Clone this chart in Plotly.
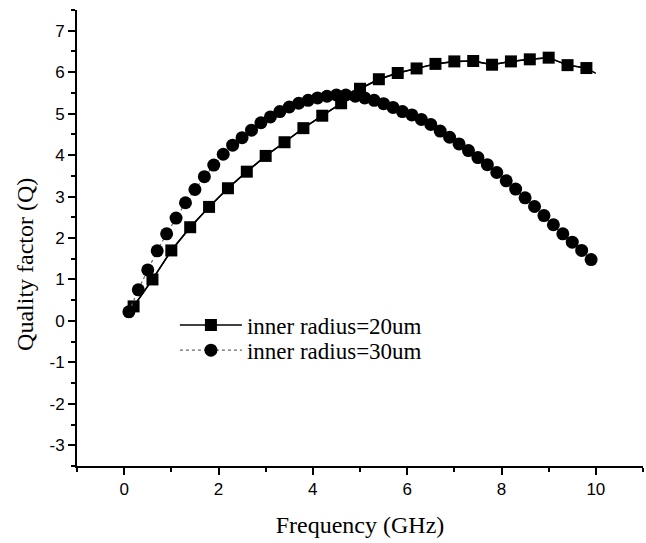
import plotly.graph_objects as go

# inner radius = 20 um (squares); last value is the line end without a symbol
sq_freq = [0.2, 0.6, 1.0, 1.4, 1.8, 2.2, 2.6, 3.0, 3.4, 3.8, 4.2, 4.6, 5.0, 5.4,
           5.8, 6.2, 6.6, 7.0, 7.4, 7.8, 8.2, 8.6, 9.0, 9.4, 9.8, 10.0]
sq_q = [0.35, 1.0, 1.7, 2.26, 2.75, 3.2, 3.6, 3.98, 4.31, 4.65, 4.95, 5.25, 5.6, 5.83,
        5.98, 6.09, 6.2, 6.26, 6.27, 6.18, 6.26, 6.31, 6.35, 6.17, 6.1, 5.97]

# inner radius = 30 um (circles)
ci_freq = [0.1, 0.3, 0.5, 0.7, 0.9, 1.1, 1.3, 1.5, 1.7, 1.9, 2.1, 2.3, 2.5, 2.7, 2.9,
           3.1, 3.3, 3.5, 3.7, 3.9, 4.1, 4.3, 4.5, 4.7, 4.9, 5.1, 5.3, 5.5, 5.7, 5.9,
           6.1, 6.3, 6.5, 6.7, 6.9, 7.1, 7.3, 7.5, 7.7, 7.9, 8.1, 8.3, 8.5, 8.7, 8.9,
           9.1, 9.3, 9.5, 9.7, 9.9]
ci_q = [0.22, 0.75, 1.23, 1.69, 2.1, 2.48, 2.85, 3.17, 3.48, 3.76, 4.02, 4.24, 4.42,
        4.6, 4.78, 4.92, 5.05, 5.16, 5.25, 5.32, 5.38, 5.42, 5.45, 5.45, 5.42, 5.38,
        5.32, 5.24, 5.15, 5.05, 4.97, 4.86, 4.74, 4.58, 4.43, 4.27, 4.11, 3.94, 3.77,
        3.58, 3.38, 3.18, 2.97, 2.76, 2.54, 2.32, 2.1, 1.9, 1.7, 1.48]

names = ["inner radius=20um", "inner radius=30um"]

x_tickvals = [0, 2, 4, 6, 8, 10]
x_ticktext = ["0", "2", "4", "6", "8", "10"]
y_tickvals = [-3, -2, -1, 0, 1, 2, 3, 4, 5, 6, 7]
y_ticktext = ["-3", "-2", "-1", "0", "1", "2", "3", "4", "5", "6", "7"]

serif = "Liberation Serif, Times New Roman, serif"
sans = "Liberation Sans, Arial, sans-serif"

fig = go.Figure()
fig.add_trace(go.Scatter(x=sq_freq, y=sq_q, mode="lines",
                         line=dict(color="black", width=1.5), showlegend=False,
                         hoverinfo="skip"))
fig.add_trace(go.Scatter(x=sq_freq[:-1], y=sq_q[:-1], mode="lines+markers", name=names[0],
                         line=dict(color="black", width=1.5),
                         marker=dict(symbol="square", size=12, color="black"),
                         legend="legend"))
fig.add_trace(go.Scatter(x=ci_freq, y=ci_q, mode="lines+markers", name=names[1],
                         line=dict(color="#666666", width=1.2, dash="dot"),
                         marker=dict(symbol="circle", size=13, color="black"),
                         legend="legend2"))

axis_common = dict(showgrid=False, zeroline=False, showline=True, linecolor="black",
                   linewidth=2, ticks="outside", tickcolor="black", tickwidth=1.5,
                   ticklen=7, mirror=False,
                   tickfont=dict(family=sans, size=17, color="black"))

fig.update_xaxes(range=[-1, 11], tickmode="array", tickvals=x_tickvals, ticktext=x_ticktext,
                 minor=dict(dtick=1, tick0=0, ticks="outside", ticklen=4, tickcolor="black",
                            tickwidth=1.5),
                 title=dict(text="Frequency (GHz)", standoff=18,
                            font=dict(family=serif, size=24, color="black")),
                 **axis_common)
fig.update_yaxes(range=[-3.5, 7.5], tickmode="array", tickvals=y_tickvals, ticktext=y_ticktext,
                 minor=dict(dtick=0.5, tick0=0, ticks="outside", ticklen=4, tickcolor="black",
                            tickwidth=1.5),
                 **axis_common)

legend_common = dict(xanchor="left", yanchor="middle", bgcolor="rgba(0,0,0,0)",
                     itemwidth=62, borderwidth=0,
                     font=dict(family=serif, size=23, color="black"))

fig.update_layout(
    width=646, height=543,
    margin=dict(l=77, r=3, t=10, b=77),
    plot_bgcolor="white", paper_bgcolor="white",
    legend=dict(x=0.173, y=0.309, **legend_common),
    legend2=dict(x=0.173, y=0.254, **legend_common),
    annotations=[dict(text="Quality factor (Q)", xref="paper", yref="paper",
                      x=-0.092, y=0.443, xanchor="center", yanchor="middle",
                      textangle=-90, showarrow=False,
                      font=dict(family=serif, size=24, color="black"))],
)

fig.write_html("out.html")
